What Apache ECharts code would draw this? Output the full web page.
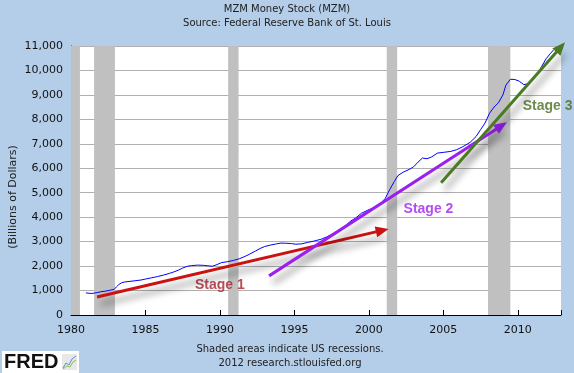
<!DOCTYPE html>
<html><head><meta charset="utf-8">
<script src="https://cdn.jsdelivr.net/npm/echarts@6/dist/echarts.min.js"></script>
<style>html,body{margin:0;padding:0;background:#b4cde8;}#c{width:574px;height:373px;}</style>
</head><body><div id="c"></div>
<script>
// MZM money stock, billions of dollars (decimal year, value)
const mzmYears = [1981.0,1981.2,1981.4,1981.6,1981.8,1982.0,1982.3,1982.6,1982.9,1983.05,1983.2,1983.4,1983.6,1983.9,1984.3,1984.7,1985.0,1985.4,1985.8,1986.2,1986.6,1986.9,1987.2,1987.5,1987.8,1988.1,1988.5,1988.9,1989.2,1989.5,1989.8,1990.1,1990.5,1990.9,1991.3,1991.7,1992.0,1992.4,1992.7,1993.0,1993.4,1993.8,1994.1,1994.4,1994.8,1995.1,1995.5,1995.9,1996.3,1996.8,1997.2,1997.6,1998.0,1998.4,1998.8,1999.1,1999.5,1999.9,2000.3,2000.8,2001.1,2001.4,2001.7,2001.95,2002.3,2002.7,2003.0,2003.3,2003.6,2003.9,2004.2,2004.6,2005.0,2005.5,2005.9,2006.3,2006.8,2007.2,2007.5,2007.8,2008.1,2008.4,2008.7,2009.0,2009.2,2009.5,2009.8,2010.1,2010.4,2010.7,2011.0,2011.3,2011.6,2011.9,2012.2,2012.4];
const mzmValues = [905,890,880,900,925,950,975,1010,1050,1150,1240,1320,1350,1370,1400,1430,1470,1520,1570,1630,1700,1760,1830,1920,1990,2020,2040,2030,2010,1995,2060,2140,2180,2230,2300,2400,2490,2620,2720,2800,2860,2910,2940,2935,2920,2895,2910,2970,3020,3100,3200,3330,3480,3640,3850,3960,4160,4280,4380,4560,4770,5130,5450,5700,5840,5950,6060,6250,6420,6390,6460,6620,6650,6690,6760,6880,7060,7300,7580,7850,8250,8500,8680,9000,9400,9640,9630,9560,9420,9460,9640,9850,10160,10480,10700,10840];
// US recessions (start, end)
const recessionStart = [1980.0, 1981.55, 1990.55, 2001.2, 2008.0];
const recessionEnd   = [1980.6, 1982.95, 1991.25, 2001.9, 2009.5];
// Stage arrows (start year, start value, end year, end value)
const stageNames = ['Stage 1','Stage 2','Stage 3'];
const arrowX0 = [1981.75, 1993.3, 2004.85];
const arrowY0 = [735, 1600, 5410];
const arrowX1 = [2000.9, 2008.9, 2012.88];
const arrowY1 = [3460, 7740, 10950];
const labelX = [1990.0, 2004.0, 2012.0];
const labelY = [1230, 4330, 8550];
const stageColors = ['#cc1111','#9a1ff0','#4a7a22'];
const labelColors = ['#aa2030','#a020f0','#4a6e1e'];
// Axis ticks
const xTicks = [1980,1985,1990,1995,2000,2005,2010];

const chart = echarts.init(document.getElementById('c'), null, {renderer:'canvas'});
const font = 'DejaVu Sans';
const lineData = mzmYears.map((y,i)=>[y, mzmValues[i]]);
const recAreas = recessionStart.map((s,i)=>[{xAxis:s},{xAxis:recessionEnd[i]}]);
const arrowLines = arrowX0.map((x,i)=>[
  {coord:[x, arrowY0[i]], lineStyle:{color:stageColors[i]}},
  {coord:[arrowX1[i], arrowY1[i]]}
]);
const labelData = labelX.map((x,i)=>({value:[x,labelY[i]], label:{color:labelColors[i], formatter:stageNames[i]}}));

chart.setOption({
  backgroundColor:'#b4cde8',
  animation:false,
  grid:{left:71, right:13, top:46, bottom:58, show:true, backgroundColor:'#ffffff', borderWidth:0},
  xAxis:{type:'value', min:1980, max:2012.9, interval:5,
    axisLine:{lineStyle:{color:'#000', width:1}},
    axisTick:{inside:true, length:5, lineStyle:{color:'#000'}},
    axisLabel:{color:'#111', fontFamily:font, fontSize:11, margin:10,
      formatter:v=> xTicks.indexOf(Math.round(v*10)/10)>=0 ? String(v) : ''},
    splitLine:{show:false}},
  yAxis:{type:'value', min:0, max:11000, interval:1000,
    axisLine:{show:true, lineStyle:{color:'#000', width:1}},
    axisTick:{show:true, inside:true, length:5, lineStyle:{color:'#000'}},
    axisLabel:{color:'#111', fontFamily:font, fontSize:11, margin:8,
      formatter:v=>v.toLocaleString('en-US')},
    splitLine:{show:true, lineStyle:{color:'#b0b0b0', width:1}}},
  series:[
    {type:'line', data:[], z:1, silent:true,
     markArea:{silent:true, itemStyle:{color:'#c0c0c0', opacity:1}, data:recAreas}},
    {type:'line', data:lineData, z:2, showSymbol:false, symbol:'none',
     lineStyle:{color:'#0000ff', width:1}},
    {type:'line', data:[], z:3, clip:false,
     markLine:{silent:true, symbol:['none','triangle'], symbolSize:[11,13], label:{show:false},
       lineStyle:{type:'solid', width:3, shadowBlur:7, shadowColor:'rgba(0,0,0,0.45)', shadowOffsetX:4, shadowOffsetY:7},
       emphasis:{disabled:true}, data:arrowLines}},
    {type:'scatter', data:labelData, z:4, symbolSize:0, clip:false,
     label:{show:true, position:'inside', fontFamily:'Liberation Sans', fontWeight:'bold', fontSize:14}}
  ],
  graphic:[
    {type:'text', left:'center', top:4, style:{text:'MZM Money Stock (MZM)', fill:'#222', font:'10px "DejaVu Sans"'}},
    {type:'text', left:'center', top:18, style:{text:'Source: Federal Reserve Bank of St. Louis', fill:'#222', font:'10px "DejaVu Sans"'}},
    {type:'text', x:13, y:197, rotation:Math.PI/2, style:{text:'(Billions of Dollars)', fill:'#222', font:'11px "DejaVu Sans"', align:'center', verticalAlign:'middle'}},
    {type:'text', x:290, y:344, style:{text:'Shaded areas indicate US recessions.', fill:'#222', font:'10px "DejaVu Sans"', align:'center'}},
    {type:'text', x:290, y:358, style:{text:'2012 research.stlouisfed.org', fill:'#222', font:'10px "DejaVu Sans"', align:'center'}},
    {type:'rect', shape:{x:2, y:351, width:77, height:22}, style:{fill:'#ffffff'}},
    {type:'text', x:4, y:352, style:{text:'FRED', fill:'#111', font:'bold 20px "Liberation Sans"'}},
    {type:'rect', shape:{x:62, y:354, width:15, height:16}, style:{fill:'#e8e8e8'}},
    {type:'polyline', shape:{points:[[63,368],[66,363],[69,365],[72,359],[76,356]]}, style:{stroke:'#5b8fd0', lineWidth:1, fill:null}},
    {type:'polyline', shape:{points:[[63,369],[67,366],[70,367],[73,362],[76,360]]}, style:{stroke:'#8cbf4c', lineWidth:1, fill:null}}
  ]
});
</script></body></html>
